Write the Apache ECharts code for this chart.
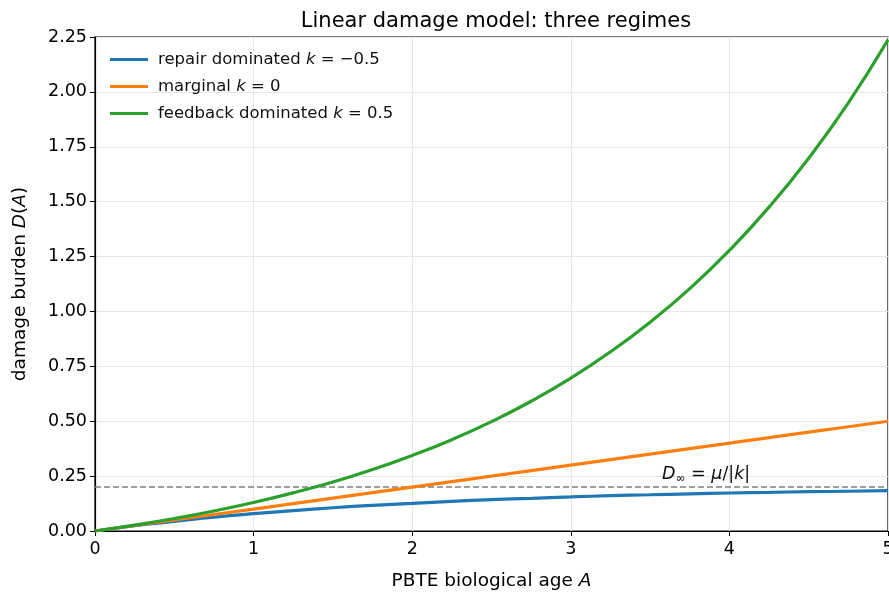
<!DOCTYPE html>
<html>
<head>
<meta charset="utf-8">
<script src="https://cdn.jsdelivr.net/npm/echarts@6/dist/echarts.min.js"></script>
<style>
  html, body { margin: 0; padding: 0; background: #fff; }
  #main { width: 889px; height: 594px; }
</style>
</head>
<body>
<div id="main"></div>
<script>
// biological age samples
var ages = [0, 0.25, 0.5, 0.75, 1, 1.25, 1.5, 1.75, 2, 2.25, 2.5, 2.75, 3, 3.25, 3.5, 3.75, 4, 4.25, 4.5, 4.75, 5];
// damage burden
var repairVals = [0, 0.024, 0.044, 0.063, 0.079, 0.093, 0.106, 0.117, 0.126, 0.135, 0.143, 0.149, 0.155, 0.161, 0.165, 0.169, 0.173, 0.176, 0.179, 0.181, 0.184];
var marginalVals = [0, 0.025, 0.05, 0.075, 0.1, 0.125, 0.15, 0.175, 0.2, 0.225, 0.25, 0.275, 0.3, 0.325, 0.35, 0.375, 0.4, 0.425, 0.45, 0.475, 0.5];
var feedbackVals = [0, 0.027, 0.057, 0.091, 0.130, 0.174, 0.223, 0.280, 0.344, 0.416, 0.498, 0.591, 0.696, 0.816, 0.951, 1.104, 1.278, 1.475, 1.698, 1.950, 2.237];
var seriesNames = ['repair dominated', 'marginal', 'feedback dominated'];
var kLabels = ['\u22120.5', '0', '0.5'];
var dInf = 0.2;       // asymptote level
var dInfLabelAge = 3.55;

function pairs(ys) {
  return ages.map(function (a, i) { return [a, ys[i]]; });
}

var chart = echarts.init(document.getElementById('main'), null, { renderer: 'canvas' });
var font = 'DejaVu Sans';
var colors = ['#1f77b4', '#ff7f0e', '#2ca02c'];

var lineSeries = [repairVals, marginalVals, feedbackVals].map(function (vals, i) {
  return {
    name: seriesNames[i],
    type: 'line',
    data: pairs(vals),
    smooth: i !== 1,
    showSymbol: false,
    lineStyle: { width: 3.2, color: colors[i] },
    itemStyle: { color: colors[i] },
    z: 3
  };
});

// dashed asymptote with its label
lineSeries.push({
  name: 'dinf',
  type: 'line',
  data: [[0, dInf], [5, dInf]],
  showSymbol: false,
  silent: true,
  lineStyle: { width: 1.5, color: '#808080', type: [6, 3] },
  z: 2,
  markPoint: {
    symbol: 'circle',
    symbolSize: 0,
    data: [{ coord: [dInfLabelAge, dInf] }],
    label: {
      show: true,
      position: 'right',
      offset: [-1, -13],
      formatter: '{i|D}{s|\u221e}{n| = }{i|\u03bc}{n|/|}{i|k}{n||}',
      rich: {
        i: { fontFamily: font, fontStyle: 'italic', fontSize: 17.5, color: '#111' },
        n: { fontFamily: font, fontSize: 17.5, color: '#111' },
        s: { fontFamily: font, fontSize: 12, color: '#111', padding: [9, 0, 0, 0] }
      }
    }
  }
});

var option = {
  animation: false,
  backgroundColor: '#fff',
  title: {
    text: 'Linear damage model: three regimes',
    left: 491,
    textAlign: 'center',
    top: 6,
    textStyle: { fontFamily: font, fontSize: 21, fontWeight: 'normal', color: '#000' }
  },
  legend: {
    data: seriesNames,
    orient: 'vertical',
    left: 105,
    top: 46,
    itemWidth: 38,
    itemHeight: 3,
    itemGap: 10,
    icon: 'rect',
    formatter: function (name) {
      var i = seriesNames.indexOf(name);
      return '{f|' + name + ' }{i|k}{n| = ' + kLabels[i] + '}';
    },
    textStyle: {
      fontFamily: font,
      fontSize: 16.5,
      color: '#111',
      rich: {
        f: { fontFamily: font, fontSize: 16.5, color: '#111', padding: [0, 0, 0, 5] },
        n: { fontFamily: font, fontSize: 16.5, color: '#111' },
        i: { fontFamily: font, fontSize: 16.5, fontStyle: 'italic', color: '#111' }
      }
    }
  },
  grid: {
    left: 95, right: 1, top: 37, bottom: 63,
    outerBoundsMode: 'none',
    show: true, borderColor: '#000', borderWidth: 1.2, backgroundColor: 'transparent'
  },
  xAxis: {
    type: 'value',
    min: 0, max: 5, interval: 1,
    name: '{n|PBTE biological age }{i|A}',
    nameLocation: 'middle',
    nameGap: 41,
    nameTextStyle: {
      rich: {
        n: { fontFamily: font, fontSize: 18.5, color: '#000' },
        i: { fontFamily: font, fontSize: 18.5, fontStyle: 'italic', color: '#000' }
      }
    },
    axisLine: { show: true, lineStyle: { color: '#000', width: 1.2 } },
    axisTick: { show: true, inside: false, length: 5, lineStyle: { color: '#000' } },
    axisLabel: { fontFamily: font, fontSize: 17.5, color: '#000', margin: 9 },
    splitLine: { show: true, lineStyle: { color: '#e6e6e6', width: 1 } }
  },
  yAxis: {
    type: 'value',
    min: 0, max: 2.25, interval: 0.25,
    name: '{n|damage burden }{i|D}{n|(}{i|A}{n|)}',
    nameLocation: 'middle',
    nameGap: 65,
    nameRotate: 90,
    nameTextStyle: {
      rich: {
        n: { fontFamily: font, fontSize: 18.5, color: '#000' },
        i: { fontFamily: font, fontSize: 18.5, fontStyle: 'italic', color: '#000' }
      }
    },
    axisLine: { show: true, lineStyle: { color: '#000', width: 1.2 } },
    axisTick: { show: true, inside: false, length: 5, lineStyle: { color: '#000' } },
    axisLabel: {
      fontFamily: font, fontSize: 17.5, color: '#000', margin: 8,
      formatter: function (v) { return v.toFixed(2); }
    },
    splitLine: { show: true, lineStyle: { color: '#e6e6e6', width: 1 } }
  },
  series: lineSeries
};

chart.setOption(option);
</script>
</body>
</html>
